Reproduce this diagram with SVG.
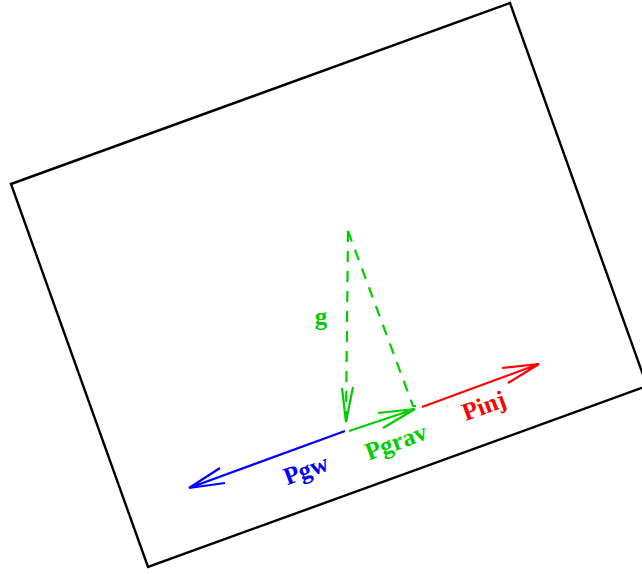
<svg xmlns="http://www.w3.org/2000/svg" width="642" height="574" viewBox="0 0 642 574">
<style>
.lbl{font-family:"Liberation Serif","Times New Roman",serif;font-weight:bold;font-size:25px;text-anchor:middle}
.ln{fill:none;stroke-width:2.2;stroke-linecap:butt;stroke-linejoin:miter}
</style>
<rect width="642" height="574" fill="#fff"/>
<g id="box"><polygon points="11,184 510,3 647,386 148,567" fill="none" stroke="#000" stroke-width="2.4"/></g>
<g id="connectors">
<path class="ln" stroke="#0000ff" d="M345,431 L189,488 M220,468 L189,488 L225,483"/>
<path class="ln" stroke="#00cd00" d="M349,431 L415,409 M378,413 L415,409 L383,428"/>
<path class="ln" stroke="#ff0000" d="M422,407 L539,364 M502,368 L539,364 L508,383"/>
<path class="ln" stroke="#00cd00" stroke-dasharray="11,9" d="M348,231 L346,422"/>
<path class="ln" stroke="#00cd00" d="M342,388 L346,422 L353,387"/>
<path class="ln" stroke="#00cd00" stroke-dasharray="11,9" d="M348,231 L413,406 L416,406"/>
</g>
<g id="labels">
<text class="lbl" x="321" y="325" fill="#00cd00">g</text>
<text class="lbl" x="306" y="478" fill="#0000ff" transform="rotate(-20 306 470)">Pgw</text>
<text class="lbl" x="396" y="450" fill="#00cd00" transform="rotate(-20 396 442)">Pgrav</text>
<text class="lbl" x="484" y="414" fill="#ff0000" transform="rotate(-20 484 406)">Pinj</text>
</g>
</svg>
